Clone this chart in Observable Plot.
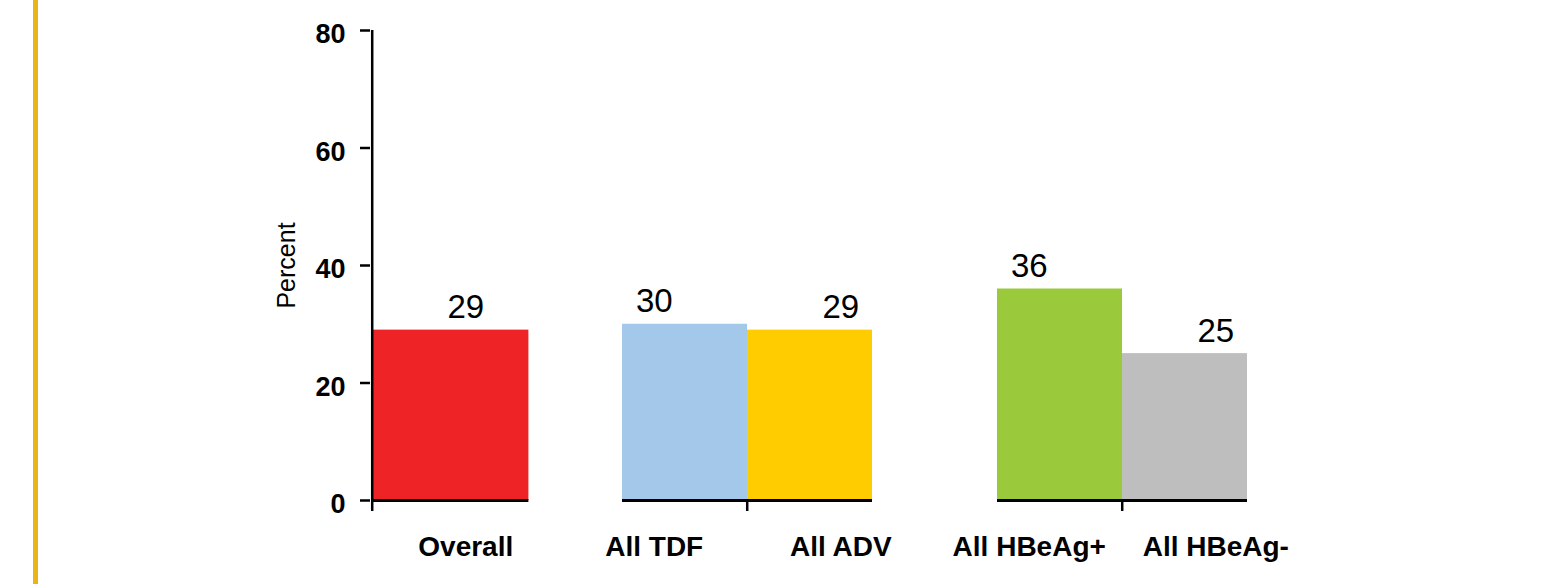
<!DOCTYPE html>
<html>
<head>
<meta charset="utf-8">
<script src="https://cdn.jsdelivr.net/npm/d3@7"></script>
<script src="https://cdn.jsdelivr.net/npm/@observablehq/plot@0.6"></script>
<style>
  html, body { margin: 0; padding: 0; background: #fff; }
  #wrap { position: relative; width: 1564px; height: 584px; }
  #bar { position: absolute; left: 33px; top: 0; width: 5px; height: 584px; background: #E9B416; }
</style>
</head>
<body>
<div id="wrap"><div id="bar"></div></div>
<script>
// Data
const categories = ["Overall", "All TDF", "All ADV", "All HBeAg+", "All HBeAg-"];
const values = [29, 30, 29, 36, 25];
const colors = ["#EE2326", "#A3C8EA", "#FFCC00", "#9ACA3C", "#BEBEBE"];
const yTicks = [0, 20, 40, 60, 80];
const slots = ["Overall", "gap1", "All TDF", "All ADV", "gap2", "All HBeAg+", "All HBeAg-"];
const labelSide = [1, -1, 1, -1, 1];

const data = categories.map((c, i) => ({cat: c, value: values[i], color: colors[i], side: labelSide[i]}));
const solo = data.filter(d => d.cat === "Overall");
const paired = data.filter(d => d.cat !== "Overall");

const W = 1564, H = 584;
const mL = 370, mR = 315, mT = 30, mB = 84;
const bw = (W - mL - mR) / slots.length;
const shift = bw * 0.245;
const wideSolo = -bw * 0.25;
const font = "'Liberation Sans', Arial, sans-serif";
const valueFont = {fontSize: 33, fontFamily: font, fill: "#000", lineAnchor: "bottom", dy: -12, ariaLabel: "value-label"};
const catFont = {fontSize: 28, fontWeight: "bold", fontFamily: font, fill: "#000", frameAnchor: "bottom", dy: 55};

const chart = Plot.plot({
  width: W,
  height: H,
  marginLeft: mL,
  marginRight: mR,
  marginTop: mT,
  marginBottom: mB,
  style: {fontFamily: font, background: "transparent"},
  x: {type: "band", domain: slots, padding: 0, axis: null},
  y: {domain: [0, 80], axis: null},
  marks: [
    Plot.barY(solo, {x: "cat", y: "value", fill: "color", insetRight: wideSolo}),
    Plot.barY(paired, {x: "cat", y: "value", fill: "color"}),
    Plot.tickY(solo, {x: "cat", y: 0, stroke: "#000", strokeWidth: 3, insetRight: wideSolo}),
    Plot.tickY(paired, {x: "cat", y: 0, stroke: "#000", strokeWidth: 3}),
    // y axis line
    Plot.ruleX(["Overall"], {x: d => d, dx: -bw / 2, y1: 0, y2: 80, stroke: "#000", strokeWidth: 2.5}),
    // x ticks at group boundaries
    Plot.ruleX(["Overall", "All ADV", "All HBeAg-"], {x: d => d, dx: -bw / 2, y1: 0, y2: 0, insetBottom: -11, stroke: "#000", strokeWidth: 2.5}),
    // y axis ticks
    Plot.axisY({ticks: yTicks, tickSize: 10, tickFormat: () => "", label: null, anchor: "left", stroke: "#000", strokeWidth: 2.5}),
    // y tick labels
    Plot.text(yTicks, {y: d => d, text: d => String(d), frameAnchor: "left", textAnchor: "end", dx: -25, dy: 4, fontSize: 27, fontWeight: "bold", fontFamily: font, fill: "#000"}),
    Plot.text(["Percent"], {frameAnchor: "left", textAnchor: "middle", dx: -84, rotate: -90, fontSize: 25, fontFamily: font, fill: "#000"}),
    // value labels
    Plot.text(data.filter(d => d.side > 0), {x: "cat", y: "value", text: d => String(d.value), ...valueFont, dx: shift}),
    Plot.text(data.filter(d => d.side < 0), {x: "cat", y: "value", text: d => String(d.value), ...valueFont, dx: -shift}),
    // category labels
    Plot.text(data.filter(d => d.side > 0), {x: "cat", text: "cat", ...catFont, dx: shift}),
    Plot.text(data.filter(d => d.side < 0), {x: "cat", text: "cat", ...catFont, dx: -shift})
  ]
});

// condense the value labels horizontally
chart.querySelectorAll('g[aria-label="value-label"] text').forEach(el => {
  const t = el.getAttribute("transform") || "";
  const x = +(el.getAttribute("x") || 0), y = +(el.getAttribute("y") || 0);
  el.removeAttribute("x"); el.removeAttribute("y");
  el.setAttribute("transform", `${t} translate(${x},${y}) scale(0.82,1)`);
});

chart.style.position = "absolute";
chart.style.left = "0";
chart.style.top = "0";
document.getElementById("wrap").appendChild(chart);
</script>
</body>
</html>
